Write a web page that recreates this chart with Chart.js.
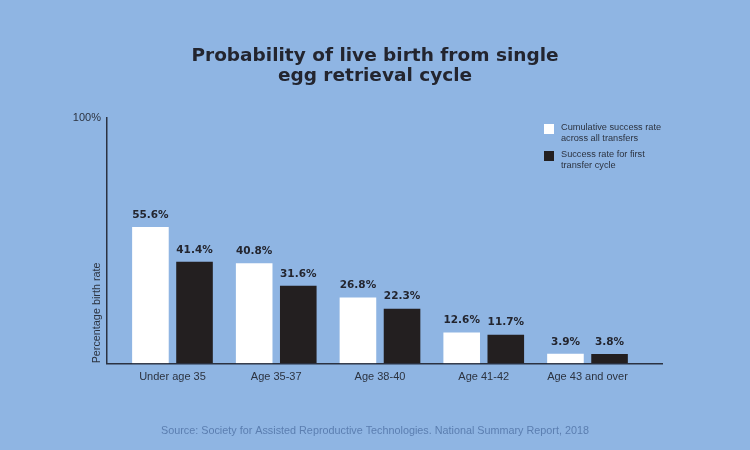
<!DOCTYPE html>
<html>
<head>
<meta charset="utf-8">
<script src="https://cdn.jsdelivr.net/npm/chart.js@4.4.1/dist/chart.umd.min.js"></script>
<style>
  html, body { margin: 0; padding: 0; background: #8fb5e3; }
  #wrap { width: 750px; height: 450px; }
</style>
</head>
<body>
<div id="wrap"><canvas id="myChart" width="750" height="450"></canvas></div>
<script>
var categories = ['Under age 35', 'Age 35-37', 'Age 38-40', 'Age 41-42', 'Age 43 and over'];
var cumulativeRate = [55.6, 40.8, 26.8, 12.6, 3.9];
var firstTransferRate = [41.4, 31.6, 22.3, 11.7, 3.8];
var cumulativeLabel = ['Cumulative success rate', 'across all transfers'];
var firstTransferLabel = ['Success rate for first', 'transfer cycle'];
var yTicks = [100];

var darkText = '#23252f';

function toPoints(vals) {
    return vals.map(function(v, i) { return {x: i, y: v}; });
}

// value labels above each bar
var valueLabels = {
    id: 'valueLabels',
    afterDatasetsDraw: function(chart) {
        var ctx = chart.ctx;
        ctx.save();
        ctx.font = 'bold 10.5px "DejaVu Sans"';
        ctx.fillStyle = darkText;
        ctx.textAlign = 'center';
        ctx.textBaseline = 'middle';
        chart.data.datasets.forEach(function(ds, di) {
            chart.getDatasetMeta(di).data.forEach(function(bar, i) {
                ctx.fillText(ds.data[i].y.toFixed(1) + '%', bar.x, bar.y - 12);
            });
        });
        ctx.restore();
    }
};

// legend box top right + rotated y title
var extras = {
    id: 'extras',
    afterDraw: function(chart) {
        var ctx = chart.ctx;
        var area = chart.chartArea;
        ctx.save();
        var lx = 544, ly = 124;
        chart.data.datasets.forEach(function(ds, di) {
            var top = ly + di * 27;
            ctx.fillStyle = ds.backgroundColor;
            ctx.fillRect(lx, top, 10, 10);
            ctx.fillStyle = '#2c3340';
            ctx.font = '9.2px "Liberation Sans"';
            ctx.textAlign = 'left';
            ctx.textBaseline = 'middle';
            ds.label.forEach(function(line, li) {
                ctx.fillText(line, lx + 17, top + 3.5 + li * 10.5);
            });
        });

        ctx.translate(97, area.bottom);
        ctx.rotate(-Math.PI / 2);
        ctx.font = '10.8px "Liberation Sans"';
        ctx.fillStyle = '#2c3340';
        ctx.textAlign = 'left';
        ctx.textBaseline = 'middle';
        ctx.fillText('Percentage birth rate', 0, 0);
        ctx.restore();
    }
};

var ctx = document.getElementById('myChart').getContext('2d');
var myChart = new Chart(ctx, {
    type: 'bar',
    data: {
        datasets: [{
            label: cumulativeLabel,
            data: toPoints(cumulativeRate),
            backgroundColor: '#ffffff',
            borderWidth: 0
        }, {
            label: firstTransferLabel,
            data: toPoints(firstTransferRate),
            backgroundColor: '#231f20',
            borderWidth: 0
        }]
    },
    options: {
        responsive: false,
        animation: false,
        categoryPercentage: 0.85,
        barPercentage: 0.83,
        layout: {
            padding: 0
        },
        scales: {
            x: {
                type: 'linear',
                offset: false,
                min: -0.631,
                max: 4.718,
                grid: { display: false, drawTicks: false },
                border: { display: true, color: '#2b3242', width: 1.5 },
                afterBuildTicks: function(scale) {
                    scale.ticks = categories.map(function(c, i) { return {value: i}; });
                },
                ticks: {
                    padding: 7,
                    maxRotation: 0,
                    autoSkip: false,
                    color: '#2c3340',
                    font: { family: 'Liberation Sans', size: 11 },
                    callback: function(v) { return categories[v]; }
                }
            },
            y: {
                min: 0,
                max: 100,
                grid: { display: false, drawTicks: false },
                border: { display: true, color: '#2b3242', width: 1.5 },
                afterBuildTicks: function(scale) {
                    scale.ticks = yTicks.map(function(v) { return {value: v}; });
                },
                afterFit: function(scale) { scale.width = 107; },
                ticks: {
                    padding: 6,
                    color: '#2c3340',
                    font: { family: 'Liberation Sans', size: 11 },
                    callback: function(v) { return v + '%'; }
                }
            },
            // empty right-hand axis that only reserves room so the plot ends at the same place
            spacer: {
                type: 'linear',
                position: 'right',
                display: true,
                grid: { display: false, drawTicks: false },
                border: { display: false },
                ticks: { display: false },
                afterFit: function(scale) { scale.width = 88; }
            }
        },
        plugins: {
            legend: { display: false },
            tooltip: { enabled: false },
            title: {
                display: true,
                text: ['Probability of live birth from single', 'egg retrieval cycle'],
                color: darkText,
                font: { family: 'DejaVu Sans', size: 18.5, weight: 'bold', lineHeight: 1.06 },
                padding: { top: 46.5, bottom: 32.3 }
            },
            subtitle: {
                display: true,
                position: 'bottom',
                text: 'Source: Society for Assisted Reproductive Technologies. National Summary Report, 2018',
                color: '#5b7eb0',
                font: { family: 'Liberation Sans', size: 10.8 },
                padding: { top: 34.5, bottom: 12 }
            }
        }
    },
    plugins: [valueLabels, extras]
});
</script>
</body>
</html>
